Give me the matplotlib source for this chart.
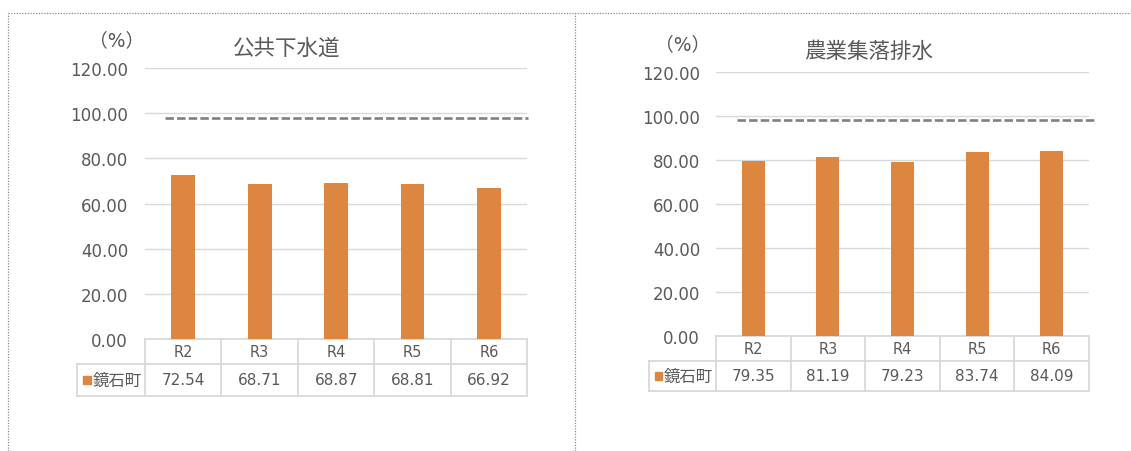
import matplotlib
matplotlib.use("Agg")
import matplotlib.pyplot as plt
import matplotlib.transforms as mtransforms
from matplotlib.lines import Line2D
from matplotlib.patches import Rectangle

plt.rcParams['font.family'] = ['DejaVu Sans', 'Noto Sans CJK JP']

# Data
years       = ["R2", "R3", "R4", "R5", "R6"]
town        = "鏡石町"
sewer_vals  = [72.54, 68.71, 68.87, 68.81, 66.92]
rural_vals  = [79.35, 81.19, 79.23, 83.74, 84.09]
target      = 98.0
titles      = ["公共下水道", "農業集落排水"]
y_ticks     = [0, 20, 40, 60, 80, 100, 120]

TEXT  = "#595959"
GRID  = "#D9D9D9"
BAR   = "#DD8640"
W, H  = 1131, 452


def px_axes(x0, x1, ytop, ybot):
    return [x0 / W, (H - ybot) / H, (x1 - x0) / W, (ybot - ytop) / H]


def draw_panel(ax, values, title, head_left, r1, r2, dash_span, pad, title_xy, pct_xy):

    x = list(range(len(years)))
    ax.bar(x, values, width=0.31, color=BAR, zorder=3)
    ax.hlines(target, dash_span[0], dash_span[1], colors="#808080",
              linestyles=(0, (3.2, 1.2)), linewidth=1.9, zorder=4, clip_on=False)

    ax.set_xlim(-0.5, len(years) - 0.5)
    ax.set_ylim(0, 120)
    ax.set_yticks(y_ticks)
    ax.set_yticklabels([f"{v:.2f}" for v in y_ticks])
    ax.set_xticks([])
    ax.tick_params(axis="y", length=0, pad=pad, labelsize=12, labelcolor=TEXT)
    ax.grid(axis="y", color=GRID, linewidth=1.0, zorder=0)
    for s in ax.spines.values():
        s.set_visible(False)

    # data table under the chart
    tr = mtransforms.blended_transform_factory(ax.transData, ax.transAxes)
    n = len(years)
    kw = dict(color=GRID, linewidth=1.3, transform=tr, clip_on=False, zorder=2)
    ax.add_line(Line2D([-0.5, n - 0.5], [0, 0], **kw))
    ax.add_line(Line2D([head_left, n - 0.5], [-r1, -r1], **kw))
    ax.add_line(Line2D([head_left, n - 0.5], [-r1 - r2, -r1 - r2], **kw))
    for i in range(n + 1):
        ax.add_line(Line2D([i - 0.5, i - 0.5], [0, -r1 - r2], **kw))
    ax.add_line(Line2D([head_left, head_left], [-r1, -r1 - r2], **kw))

    for i, (yr, v) in enumerate(zip(years, values)):
        ax.text(i, -r1 / 2, yr, transform=tr, ha="center", va="center",
                fontsize=10.5, color=TEXT)
        ax.text(i, -r1 - r2 / 2, f"{v:.2f}", transform=tr, ha="center",
                va="center", fontsize=11, color=TEXT)

    ax.add_patch(Rectangle((head_left + 0.08, -r1 - r2 / 2 - 0.014), 0.1, 0.028,
                           transform=tr, color=BAR, clip_on=False))
    ax.text(head_left + 0.2, -r1 - r2 / 2, town, transform=tr, ha="left",
            va="center", fontsize=11.8, color=TEXT)

    fig.text(title_xy[0] / W, 1 - title_xy[1] / H, title, ha="center",
             va="center", fontsize=15.5, color=TEXT)
    fig.text(pct_xy[0] / W, 1 - pct_xy[1] / H, "（%）", ha="center",
             va="center", fontsize=13.5, color=TEXT)


fig = plt.figure(figsize=(W / 100, H / 100), dpi=100)

ax1 = fig.add_axes(px_axes(145, 527.3, 69, 340))
draw_panel(ax1, sewer_vals, titles[0], -1.385, 25 / 271, 31.7 / 271,
           (-0.24, 4.51), 12.2, (287, 49), (117, 41))

ax2 = fig.add_axes(px_axes(716, 1089, 73, 337))
draw_panel(ax2, rural_vals, titles[1], -1.398, 25 / 264, 30 / 264,
           (-0.22, 4.6), 11.5, (869, 52), (683, 45))

# dotted frames of the two sheet areas
dot = dict(color="#8C8C8C", linewidth=0.9, linestyle=(0, (1, 1.2)))
fig.add_artist(Line2D([8 / W, 1], [1 - 13.5 / H, 1 - 13.5 / H], **dot))
fig.add_artist(Line2D([8 / W, 8 / W], [0, 1 - 13.5 / H], **dot))
fig.add_artist(Line2D([575 / W, 575 / W], [0, 1 - 13.5 / H], **dot))

fig.savefig("out.png", dpi=100)
